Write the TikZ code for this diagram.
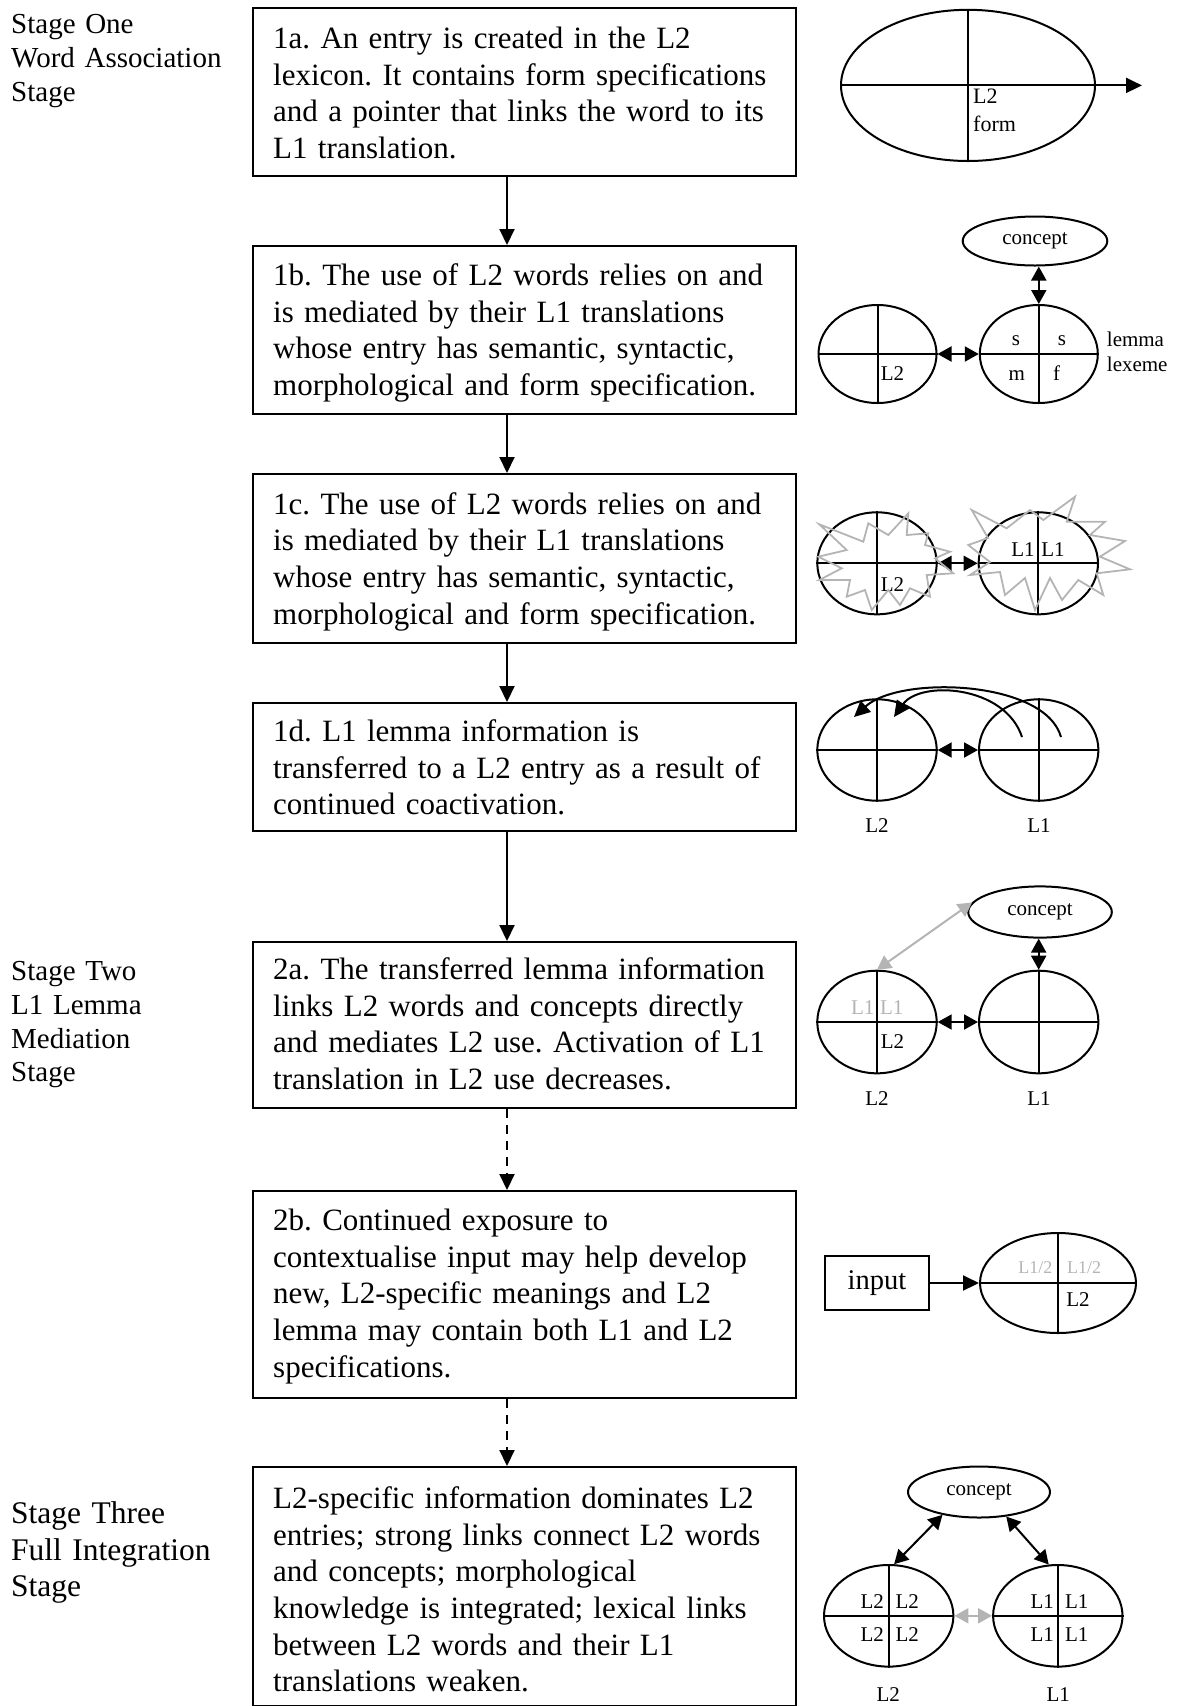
\documentclass[tikz,border=0pt]{standalone}
\usepackage{fontspec}
\setmainfont{Liberation Serif}
\usetikzlibrary{arrows.meta,shapes.geometric}
\definecolor{lite}{RGB}{180,180,180}
\frenchspacing
\begin{document}
\begin{tikzpicture}[x=1pt,y=-1pt,
  box/.style={draw,line width=2pt,rectangle,inner sep=0pt,minimum width=543pt,anchor=north west},
  btext/.style={anchor=base west,inner sep=0pt,text width=520pt,align=left,font=\fontsize{31}{36.6}\selectfont},
  stagetext/.style={anchor=base west,inner sep=0pt,text width=240pt,align=left,font=\fontsize{29}{33.7}\selectfont},
  ell/.style={draw,ellipse,line width=2pt,inner sep=0pt,font=\fontsize{21}{25}\selectfont},
  xline/.style={line width=2pt},
  lbl/.style={inner sep=0pt,font=\fontsize{21}{25}\selectfont,anchor=base},
  flow/.style={line width=2pt,-{Triangle[width=15pt,length=16pt]}},
  dflow/.style={flow,dash pattern=on 9pt off 7pt},
  dbl/.style={line width=2pt,{Triangle[width=15pt,length=14pt]}-{Triangle[width=15pt,length=14pt]}},
  burst/.style={draw=lite,line width=1.8pt,line join=miter},
]
\useasboundingbox (0,0) rectangle (1178,1706);

% ---------- stage labels ----------
\node[stagetext] (s1) at (11,33.6) {Stage One\\Word Association\\Stage};
\node[stagetext] (s2) at (11,980.6) {Stage Two\\L1 Lemma\\Mediation\\Stage};
\node[stagetext,font=\fontsize{31.5}{36.6}\selectfont] (s3) at (11,1523.6) {Stage Three\\Full Integration\\Stage};

% ---------- main boxes ----------
\node[box,minimum height=168.5pt] (b1a) at (252.3,6.5) {};
\node[box,minimum height=168pt] (b1b) at (252.3,245) {};
\node[box,minimum height=169pt] (b1c) at (252.3,473) {};
\node[box,minimum height=128pt] (b1d) at (252.3,702) {};
\node[box,minimum height=166pt] (b2a) at (252.3,941) {};
\node[box,minimum height=207pt] (b2b) at (252.3,1190) {};
\node[box,minimum height=238.5pt] (b3) at (252.3,1466) {};

\node[btext] (t1a) at (273,48.6) {1a. An entry is created in the L2\\lexicon. It contains form specifications\\and a pointer that links the word to its\\L1 translation.};
\node[btext] (t1b) at (273,285.6) {1b. The use of L2 words relies on and\\is mediated by their L1 translations\\whose entry has semantic, syntactic,\\morphological and form specification.};
\node[btext] (t1c) at (273,514.2) {1c. The use of L2 words relies on and\\is mediated by their L1 translations\\whose entry has semantic, syntactic,\\morphological and form specification.};
\node[btext] (t1d) at (273,741.6) {1d. L1 lemma information is\\transferred to a L2 entry as a result of\\continued coactivation.};
\node[btext] (t2a) at (273,979.6) {2a. The transferred lemma information\\links L2 words and concepts directly\\and mediates L2 use. Activation of L1\\translation in L2 use decreases.};
\node[btext] (t2b) at (273,1230.6) {2b. Continued exposure to\\contextualise input may help develop\\new, L2-specific meanings and L2\\lemma may contain both L1 and L2\\specifications.};
\node[btext] (t3) at (273,1508.6) {L2-specific information dominates L2\\entries; strong links connect L2 words\\and concepts; morphological\\knowledge is integrated; lexical links\\between L2 words and their L1\\translations weaken.};

\coordinate (ax) at (507,0);
\draw[flow] (b1a.south -| ax) -- (b1b.north -| ax);
\draw[flow] (b1b.south -| ax) -- (b1c.north -| ax);
\draw[flow] (b1c.south -| ax) -- (b1d.north -| ax);
\draw[flow] (b1d.south -| ax) -- (b2a.north -| ax);
\draw[dflow] (b2a.south -| ax) -- (b2b.north -| ax);
\draw[dflow] (b2b.south -| ax) -- (b3.north -| ax);

% ---------- 1a ----------
\node[ell,minimum width=254pt,minimum height=151.2pt] (e1a) at (968,85.4) {};
\coordinate (tip1a) at (1142,85.4);
\draw[xline] (e1a.north) -- (e1a.south);
\draw[line width=2pt,-{Triangle[width=15pt,length=16pt]}] (e1a.west) -- (tip1a);
\node[lbl,anchor=base west,font=\fontsize{22}{26}\selectfont] (l1a) at (973,103.5) {L2};
\node[lbl,anchor=base west,font=\fontsize{22}{26}\selectfont] (f1a) at (973,131.5) {form};

% ---------- 1b ----------
\node[ell,minimum width=144.6pt,minimum height=49pt] (c1b) at (1035,241) {concept};
\node[ell,minimum width=118pt,minimum height=98pt] (e1bL) at (877.5,354) {};
\node[ell,minimum width=118pt,minimum height=98pt] (e1bR) at (1038.8,354) {};
\foreach \e in {e1bL,e1bR}{\draw[xline] (\e.north) -- (\e.south); \draw[xline] (\e.west) -- (\e.east);}
\draw[dbl] (e1bL.east) -- (e1bR.west);
\draw[dbl] (e1bR.north) -- (e1bR.north |- c1b.south);
\node[lbl] (s1b1) at (1016,345) {s};
\node[lbl] (s1b2) at (1062,345) {s};
\node[lbl] (m1b) at (1016.7,380) {m};
\node[lbl] (f1b) at (1056.7,380) {f};
\node[lbl] (l1b) at (892.5,380) {L2};
\node[lbl,anchor=base west] (lem1b) at (1106.7,346.7) {lemma};
\node[lbl,anchor=base west] (lex1b) at (1106.7,371.7) {lexeme};

% ---------- 1c ----------
\node[ell,minimum width=119.4pt,minimum height=102pt] (e1cL) at (877,563.3) {};
\node[ell,minimum width=119.4pt,minimum height=102pt] (e1cR) at (1038.3,563.3) {};
\foreach \e in {e1cL,e1cR}{\draw[xline] (\e.north) -- (\e.south); \draw[xline] (\e.west) -- (\e.east);}
\draw[dbl] (e1cL.east) -- (e1cR.west);
\node[lbl] (a1c) at (1023,556) {L1};
\node[lbl] (b1cT) at (1053,556) {L1};
\node[lbl] (c1cT) at (892.5,591) {L2};
\draw[burst] (819.3,524.3) -- (863.3,541.7) -- (868.3,523.3) -- (888.3,535) -- (908.3,513.3) -- (906.7,535) -- (928.3,533.3) -- (925,545) -- (950,551.7) -- (935,558.3) -- (953.3,573.3) -- (926.7,575) -- (930,596.7) -- (910,588.3) -- (900,605) -- (888.3,590) -- (871.7,610) -- (865,590) -- (846.7,596.7) -- (850,580) -- (819.3,580) -- (841.7,568.3) -- (818.3,556.7) -- (846.7,550) -- cycle;
\draw[burst] (971.7,510) -- (1006.7,528.3) -- (1030,510) -- (1043.3,520) -- (1075,496.7) -- (1066.7,521.7) -- (1105,521.7) -- (1090,535) -- (1125,541) -- (1100,556.7) -- (1130,569.3) -- (1096.7,573.3) -- (1103.3,595) -- (1078.3,580) -- (1062,600) -- (1050,578) -- (1035,610) -- (1025,578) -- (1005,595) -- (1000,572) -- (970,575) -- (990,562) -- (968.3,545) -- (988,538) -- cycle;

% ---------- 1d ----------
\node[ell,minimum width=119.4pt,minimum height=101.4pt] (e1dL) at (877,750) {};
\node[ell,minimum width=119.4pt,minimum height=101.4pt] (e1dR) at (1038.7,750) {};
\foreach \e in {e1dL,e1dR}{\draw[xline] (\e.north) -- (\e.south); \draw[xline] (\e.west) -- (\e.east);}
\draw[dbl] (e1dL.east) -- (e1dR.west);
\coordinate (o1s) at (1061,737);
\coordinate (o1e) at (854,717);
\coordinate (i1s) at (1022,737);
\coordinate (i1e) at (894,717);
\draw[flow] (o1s) .. controls (1045,680) and (900,675) .. (o1e);
\draw[flow] (i1s) .. controls (1005,685) and (920,680) .. (i1e);
\node[lbl] (n1dL) at (877,832.7) {L2};
\node[lbl] (n1dR) at (1039,832.7) {L1};

% ---------- 2a ----------
\node[ell,minimum width=143.6pt,minimum height=51.2pt] (c2a) at (1040,912) {concept};
\node[ell,minimum width=119.4pt,minimum height=102.6pt] (e2aL) at (877,1022) {};
\node[ell,minimum width=119.4pt,minimum height=102.6pt] (e2aR) at (1038.7,1022) {};
\foreach \e in {e2aL,e2aR}{\draw[xline] (\e.north) -- (\e.south); \draw[xline] (\e.west) -- (\e.east);}
\draw[dbl] (e2aL.east) -- (e2aR.west);
\draw[dbl] (e2aR.north) -- (e2aR.north |- c2a.south);
\draw[dbl,draw=lite,fill=lite] (c2a.172) -- (e2aL.north);
\node[lbl,text=lite] (g2a1) at (862.7,1014) {L1};
\node[lbl,text=lite] (g2a2) at (891.7,1014) {L1};
\node[lbl] (k2a) at (892.5,1048.3) {L2};
\node[lbl] (n2aL) at (877,1105) {L2};
\node[lbl] (n2aR) at (1039,1105) {L1};

% ---------- 2b ----------
\node[draw,line width=2pt,inner sep=0pt,minimum width=104pt,minimum height=54pt,font=\fontsize{28.5}{30}\selectfont] (inp) at (877,1283) {input};
\node[ell,minimum width=156pt,minimum height=100pt] (e2b) at (1058,1283) {};
\draw[xline] (e2b.north) -- (e2b.south);
\draw[xline] (e2b.west) -- (e2b.east);
\draw[flow] (inp.east) -- (e2b.west);
\node[lbl,text=lite,font=\fontsize{18}{22}\selectfont] (g2b1) at (1035.3,1273.3) {L1/2};
\node[lbl,text=lite,font=\fontsize{18}{22}\selectfont] (g2b2) at (1084,1273.3) {L1/2};
\node[lbl] (k2b) at (1078,1306) {L2};

% ---------- 3 ----------
\node[ell,minimum width=142pt,minimum height=51pt] (c3) at (979,1492) {concept};
\node[ell,minimum width=129.4pt,minimum height=101.6pt] (e3L) at (888.7,1615.8) {};
\node[ell,minimum width=129.4pt,minimum height=101.6pt] (e3R) at (1057.8,1615.8) {};
\foreach \e in {e3L,e3R}{\draw[xline] (\e.north) -- (\e.south); \draw[xline] (\e.west) -- (\e.east);}
\draw[dbl] (c3.212) -- (e3L.84);
\draw[dbl] (c3.318) -- (e3R.100);
\draw[dbl,draw=lite,fill=lite] (e3L.east) -- (e3R.west);
\node[lbl] (p1) at (872.3,1608.3) {L2};
\node[lbl] (p2) at (907.3,1608.3) {L2};
\node[lbl] (p3) at (872.3,1641.7) {L2};
\node[lbl] (p4) at (907.3,1641.7) {L2};
\node[lbl] (q1) at (1042.3,1608.3) {L1};
\node[lbl] (q2) at (1076.7,1608.3) {L1};
\node[lbl] (q3) at (1042.3,1641.7) {L1};
\node[lbl] (q4) at (1076.7,1641.7) {L1};
\node[lbl] (n3L) at (888.3,1701.7) {L2};
\node[lbl] (n3R) at (1058.3,1701.7) {L1};
\end{tikzpicture}
\end{document}
